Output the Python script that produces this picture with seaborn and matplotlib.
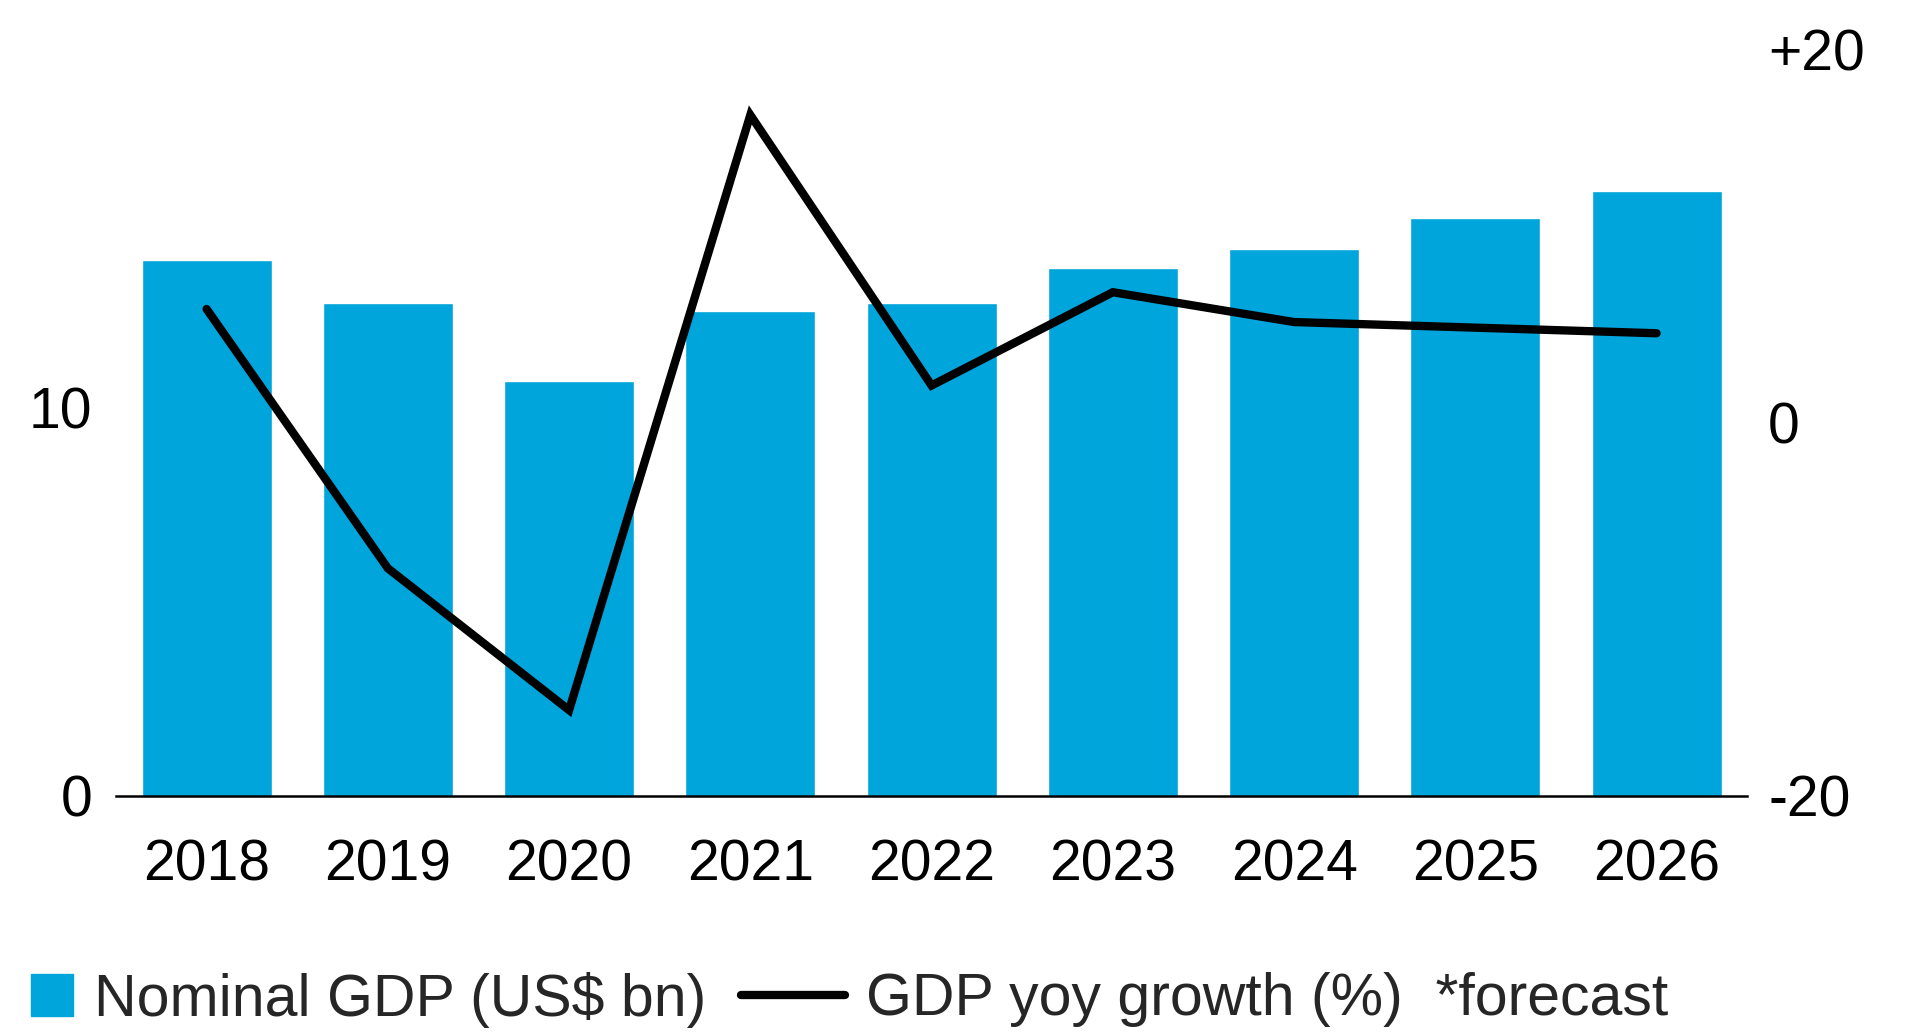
import numpy as np
import pandas as pd
import matplotlib
matplotlib.use('Agg')
import matplotlib.pyplot as plt
import seaborn as sns
from matplotlib.patches import Patch
from matplotlib.lines import Line2D

# data
years = ['2018', '2019', '2020', '2021', '2022', '2023', '2024', '2025', '2026']
nominal_gdp = [13.8, 12.7, 10.7, 12.5, 12.7, 13.6, 14.1, 14.9, 15.6]
gdp_growth = [6.1, -7.8, -15.4, 16.5, 2.0, 7.0, 5.4, 5.1, 4.8]

left_ticks = [0, 10]
right_ticks = [-20, 0, 20]
right_tick_labels = ['-20', '0', '+20']

bar_color = '#00A5DB'

sns.set_style('white')
plt.rcParams['font.family'] = ['Liberation Sans', 'DejaVu Sans']

df = pd.DataFrame({'year': years, 'gdp': nominal_gdp, 'growth': gdp_growth})

fig = plt.figure(figsize=(19.2, 10.35), dpi=100)
ax = fig.add_axes([0.0604, 0.231, 0.8496, 0.721])

sns.barplot(data=df, x='year', y='gdp', color=bar_color, saturation=1,
            width=0.717, ax=ax)
ax.set_xlim(-0.5, 8.5)
ax.set_ylim(0, 19.23)
ax.set_yticks(left_ticks)
ax.set_yticklabels([str(t) for t in left_ticks])
ax.set_xlabel('')
ax.set_ylabel('')

# growth line on the right axis
ax2 = ax.twinx()
sns.lineplot(x=np.arange(len(years)), y=df['growth'], color='black',
             linewidth=6, ax=ax2, solid_capstyle='round',
             solid_joinstyle='miter')
ax2.set_ylim(-20, 20)
ax2.set_yticks(right_ticks)
ax2.set_yticklabels(right_tick_labels)
ax2.set_ylabel('')

for a in (ax, ax2):
    for s in ['top', 'left', 'right', 'bottom']:
        a.spines[s].set_visible(False)
    a.tick_params(length=0, labelsize=41, colors='black')
    a.grid(False)
ax.spines['bottom'].set_visible(True)
ax.spines['bottom'].set_color('black')
ax.spines['bottom'].set_linewidth(1.8)
ax.tick_params(axis='x', pad=31)
ax.tick_params(axis='y', pad=17)
ax2.tick_params(axis='y', pad=15)

# legend (two pieces so the handles get different lengths)
fs = 42.5
fig.legend(handles=[Patch(color=bar_color)], labels=['Nominal GDP (US$ bn)'],
           loc='center left', bbox_to_anchor=(0.016, 0.034),
           frameon=False, fontsize=fs, handlelength=0.71,
           handleheight=0.73, handletextpad=0.36, borderpad=0,
           borderaxespad=0)
fig.legend(handles=[Line2D([], [], color='black', linewidth=6)],
           labels=['GDP yoy growth (%)  *forecast'],
           loc='center left', bbox_to_anchor=(0.386, 0.034),
           frameon=False, fontsize=fs, handlelength=1.76,
           handletextpad=0.36, borderpad=0, borderaxespad=0)

plt.savefig('out.png', dpi=100)
